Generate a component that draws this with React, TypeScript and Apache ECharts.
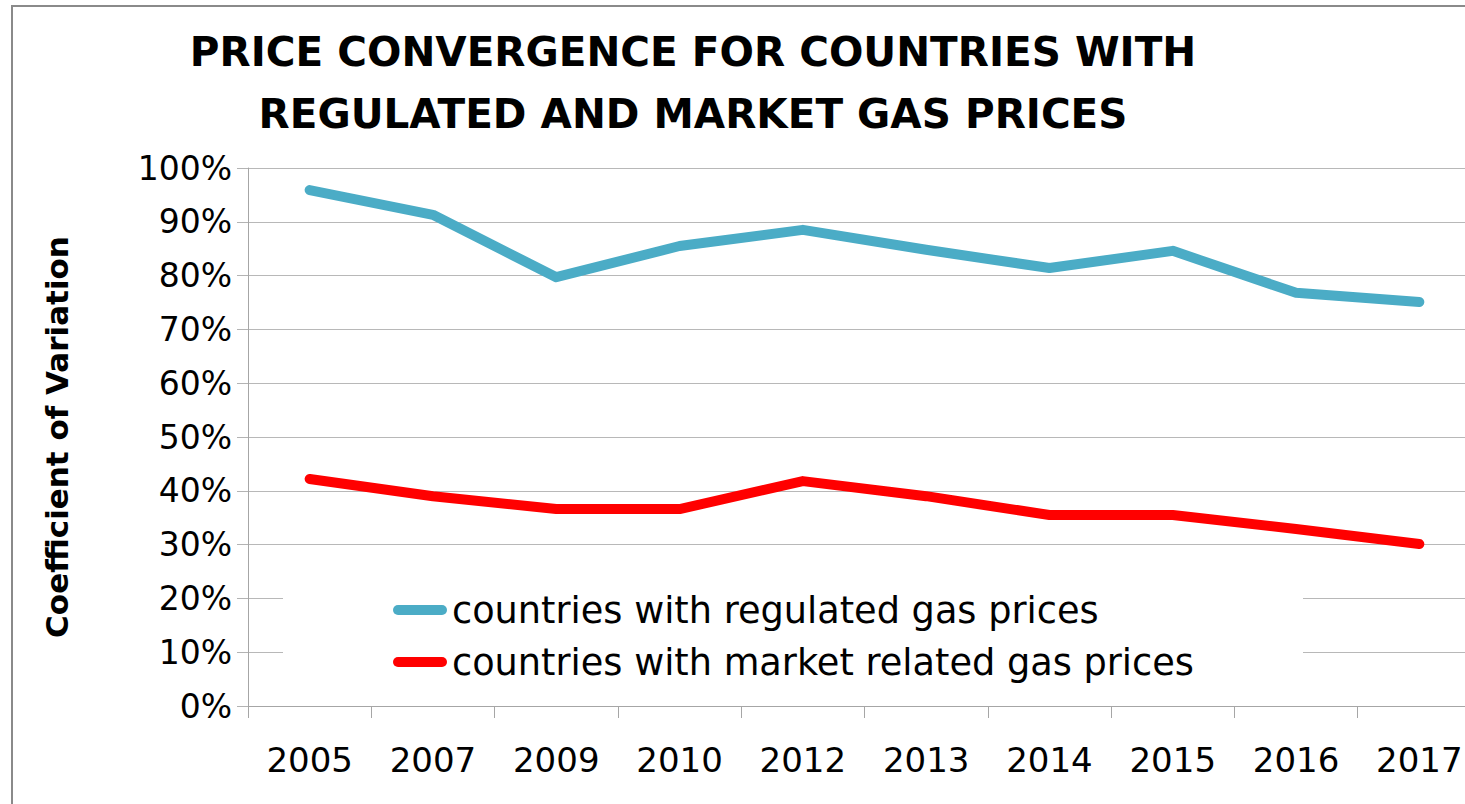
import React, { useEffect, useRef } from "react";
import * as echarts from "echarts";

const titleText = "PRICE CONVERGENCE FOR COUNTRIES WITH\nREGULATED AND MARKET GAS PRICES";
const yAxisName = "Coefficient of Variation";
const categories = ["2005", "2007", "2009", "2010", "2012", "2013", "2014", "2015", "2016", "2017"];
const regulatedName = "countries with regulated gas prices";
const marketName = "countries with market related gas prices";
const regulated = [95.9, 91.3, 79.7, 85.5, 88.5, 84.8, 81.4, 84.6, 76.8, 75.1];
const market = [42.2, 39.0, 36.6, 36.6, 41.8, 39.0, 35.5, 35.5, 32.9, 30.1];
const yMin = 0;
const yMax = 100;
const yStep = 10;

const FONT = "DejaVu Sans";
const pill = "path://M5,0 H49 A5,5 0 0 1 49,10 H5 A5,5 0 0 1 5,0 Z";

export default function App() {
  const ref = useRef<HTMLDivElement>(null);
  useEffect(() => {
    if (!ref.current) return;
    const chart = echarts.init(ref.current, undefined, { renderer: "svg" });
    chart.setOption({
      animation: false,
      backgroundColor: "#ffffff",
      title: {
        text: titleText,
        left: 693,
        top: 21,
        padding: 0,
        textAlign: "center",
        textStyle: {
          fontFamily: FONT,
          fontWeight: "bold",
          fontSize: 40.5,
          lineHeight: 62,
          color: "#000000",
        },
      },
      graphic: [
        {
          type: "rect",
          z: 0,
          silent: true,
          shape: { x: 12, y: 6, width: 1490, height: 830 },
          style: { fill: "none", stroke: "#8a8a8a", lineWidth: 2 },
        },
        {
          type: "rect",
          z: 5,
          silent: true,
          shape: { x: 283, y: 575, width: 1020, height: 115 },
          style: { fill: "#ffffff" },
        },
      ],
      legend: {
        orient: "vertical",
        left: 393,
        top: 590,
        padding: 0,
        z: 6,
        itemGap: 12,
        itemWidth: 54,
        itemHeight: 10,
        icon: pill,
        textStyle: { fontFamily: FONT, fontSize: 36.7, lineHeight: 40, color: "#000000" },
        data: [regulatedName, marketName],
      },
      grid: { left: 248, top: 168, width: 1233, height: 538, containLabel: false },
      xAxis: {
        type: "category",
        data: categories,
        boundaryGap: true,
        axisLine: { show: true, lineStyle: { color: "#a6a6a6", width: 1 } },
        axisTick: { show: true, length: 12, lineStyle: { color: "#a6a6a6" } },
        axisLabel: { fontFamily: FONT, fontSize: 34, color: "#000000", margin: 37 },
        splitLine: { show: false },
      },
      yAxis: {
        type: "value",
        min: yMin,
        max: yMax,
        interval: yStep,
        name: yAxisName,
        nameLocation: "middle",
        nameRotate: 90,
        nameGap: 176,
        nameTextStyle: { fontFamily: FONT, fontWeight: "bold", fontSize: 31, color: "#000000" },
        axisLine: { show: true, lineStyle: { color: "#a6a6a6", width: 1 } },
        axisTick: { show: true, length: 11, lineStyle: { color: "#b3b3b3" } },
        axisLabel: { fontFamily: FONT, fontSize: 33, color: "#000000", margin: 16, formatter: "{value}%" },
        splitLine: { show: true, lineStyle: { color: "#b8b8b8", width: 1 } },
      },
      series: [
        {
          name: regulatedName,
          type: "line",
          data: regulated,
          symbol: "none",
          showSymbol: false,
          color: "#4bacc6",
          lineStyle: { width: 10, color: "#4bacc6", cap: "round", join: "round" },
          z: 3,
        },
        {
          name: marketName,
          type: "line",
          data: market,
          symbol: "none",
          showSymbol: false,
          color: "#ff0000",
          lineStyle: { width: 10, color: "#ff0000", cap: "round", join: "round" },
          z: 3,
        },
      ],
    });
    return () => chart.dispose();
  }, []);
  return (
    <div
      style={{
        position: "fixed",
        left: 0,
        top: 0,
        width: 1465,
        height: 804,
        overflow: "hidden",
        background: "#fff",
      }}
    >
      <div ref={ref} style={{ width: 1500, height: 804 }} />
    </div>
  );
}
